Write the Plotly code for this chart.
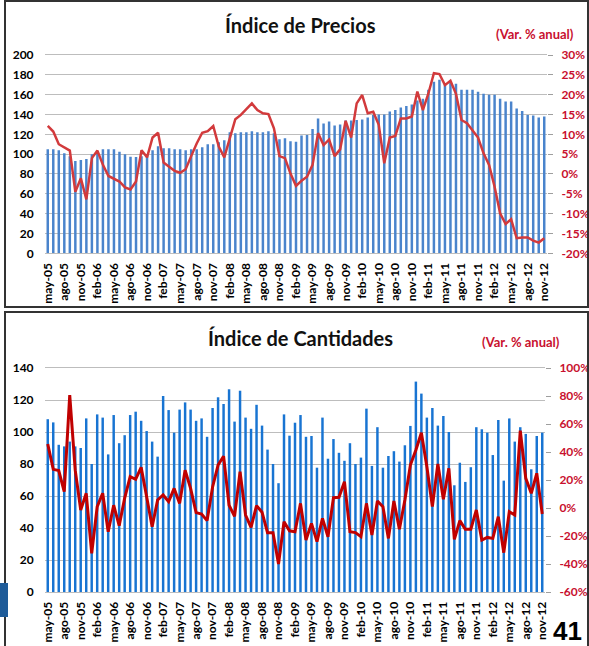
import plotly.graph_objects as go

# ---------------- data ----------------
month_names = ["ene", "feb", "mar", "abr", "may", "jun", "jul", "ago", "sep", "oct", "nov", "dic"]
categories = []
for yr in range(2005, 2013):
    for m in range(12):
        if (yr == 2005 and m < 4) or (yr == 2012 and m > 10):
            continue
        categories.append(f"{month_names[m]}-{str(yr)[2:]}")

tick_labels = categories[::3]

precios_indice = [
    105, 105, 104, 101, 98, 93, 94, 95, 100, 103,
    105, 105, 105, 102.5, 100, 97.5, 97, 98, 100, 104,
    108, 106, 106, 105, 105, 104, 105, 105, 107, 110,
    110, 112, 114, 122, 121, 122, 122, 123, 122, 122,
    123, 121, 115, 116, 113, 112.6, 118.7, 119.3, 125.4, 136,
    131, 133, 129, 130, 134, 134, 134.5, 135, 137, 139.5,
    140, 140, 143, 144.5, 147, 148.6, 150, 154, 156, 165,
    173, 175, 171, 173, 171, 165, 165, 165, 163, 161,
    160, 160, 156, 153, 153, 146, 143.5, 139.5, 139, 137,
    138,
]
precios_var = [
    12.1, 10.7, 7.5, 6.7, 5.9, -4.5, -1.1, -6.4, 4.0, 5.9,
    2.3, -0.5, -1.1, -1.9, -3.4, -3.9, -1.9, 6.0, 4.2, 9.2,
    10.4, 2.9, 1.8, 0.8, 0.3, 1.2, 4.5, 7.7, 10.4, 10.8,
    12.1, 6.9, 4.2, 9.0, 13.8, 14.9, 16.3, 17.8, 16.1, 15.3,
    15.1, 11.5, 4.5, 4.0, 0.1, -3.0, -1.7, -0.7, 2.3, 10.3,
    7.3, 8.7, 4.5, 6.2, 13.4, 9.2, 17.8, 19.9, 15.3, 15.7,
    12.4, 2.7, 9.2, 9.6, 14.0, 14.0, 14.5, 20.8, 16.1, 20.3,
    25.4, 25.2, 22.4, 23.5, 20.2, 13.6, 12.8, 11.1, 9.2, 5.2,
    2.3, -3.2, -9.9, -12.6, -11.4, -16.2, -16.0, -16.0, -16.8, -17.3,
    -16.2,
]

cantidades_indice = [
    108, 106, 92, 91, 94, 91, 90, 108.5, 80, 111,
    109, 86, 110.6, 93, 98, 110.6, 112.7, 107, 100.6, 94,
    84.6, 122.5, 113.7, 99.6, 114, 118.5, 114, 107, 108.5, 97,
    115, 121.7, 117.5, 126.7, 106.5, 125.8, 109, 102, 117, 104,
    89, 80, 68, 111, 97.7, 105.8, 110.6, 97, 97.5, 77.7,
    109, 83.3, 95.6, 87, 82, 93, 80, 84, 114.6, 78.8,
    103, 77.7, 85, 88, 81.5, 91.7, 103.8, 131.5, 124, 109,
    115, 104, 110, 100, 66.7, 80.8, 68.8, 78, 103, 101.7,
    99.6, 85.6, 107.5, 69.6, 108.5, 94, 103, 98.8, 76.7, 97.5,
    99.6,
]
cantidades_var = [
    45.7, 27.6, 26.7, 11.7, 80.7, 27.0, -1.4, 10.5, -32.4, 1.0,
    10.5, -17.0, 2.0, -12.6, 7.0, 22.4, 20.5, 29.0, 8.0, -13.3,
    5.7, 9.3, 4.5, 14.0, 3.3, 27.0, 14.0, -3.3, -4.3, -9.0,
    15.0, 30.7, 37.0, 2.0, -6.0, 26.0, -5.0, -13.8, 1.7, -3.0,
    -17.6, -17.6, -40.0, -9.8, -16.3, -17.0, 3.3, -22.9, -11.0, -24.0,
    -7.4, -20.5, 7.4, 7.6, 18.8, -17.0, -17.6, -20.5, 3.3, -19.3,
    5.0, 1.0, -21.7, 5.0, -15.2, 5.7, 30.7, 41.4, 53.8, 29.5,
    1.0, 31.4, 6.2, 28.3, -22.4, -9.0, -15.2, -15.2, -1.4, -22.9,
    -21.0, -21.7, -6.2, -31.9, -2.6, -5.0, 55.2, 21.2, 10.5, 24.8,
    -4.3,
]

left_ticks_top = [0, 20, 40, 60, 80, 100, 120, 140, 160, 180, 200]
right_ticks_top = [-20, -15, -10, -5, 0, 5, 10, 15, 20, 25, 30]
right_text_top = ["-20%", "-15%", "-10%", "-5%", "0%", "5%", "10%", "15%", "20%", "25%", "30%"]
left_ticks_bot = [0, 20, 40, 60, 80, 100, 120, 140]
right_ticks_bot = [-60, -40, -20, 0, 20, 40, 60, 80, 100]
right_text_bot = ["-60%", "-40%", "-20%", "0%", "20%", "40%", "60%", "80%", "100%"]

# ---------------- layout helpers ----------------
W, H = 589, 646
def px(x):
    return x / W
def py(y):
    return 1 - y / H

FONT = "Lato"
RED = "#C8102E"
GRID = "#BDBDBD"

fig = go.Figure()

fig.add_trace(go.Bar(x=categories, y=precios_indice, marker=dict(color="#4A84CC", line=dict(width=0)),
                     xaxis="x", yaxis="y", showlegend=False))
fig.add_trace(go.Scatter(x=categories, y=precios_var, mode="lines", line=dict(color="#D23A3C", width=2.5),
                         xaxis="x", yaxis="y2", showlegend=False))
fig.add_trace(go.Bar(x=categories, y=cantidades_indice, marker=dict(color="#1874D2", line=dict(width=0)),
                     xaxis="x2", yaxis="y3", showlegend=False))
fig.add_trace(go.Scatter(x=categories, y=cantidades_var, mode="lines", line=dict(color="#C00000", width=3),
                         xaxis="x2", yaxis="y4", showlegend=False))

tickfont_black = dict(family=FONT, size=12, color="#000000", weight="bold")
tickfont_red = dict(family=FONT, size=12, color=RED, weight="bold")

xcommon = dict(type="category", tickmode="array", tickvals=tick_labels, ticktext=tick_labels,
               tickangle=-90, tickfont=tickfont_black, showgrid=False, showline=True,
               linecolor=GRID, linewidth=1, mirror=True, ticks="outside", ticklen=4,
               tickcolor="rgba(0,0,0,0)", range=[-0.5, 90.5], automargin=False)

fig.update_layout(
    width=W, height=H,
    margin=dict(l=0, r=0, t=0, b=0, autoexpand=False),
    paper_bgcolor="white", plot_bgcolor="white",
    bargap=0.55,
    xaxis=dict(domain=[px(45), px(547)], anchor="y", **xcommon),
    yaxis=dict(domain=[py(253.3), py(55)], range=[0, 200], tickvals=left_ticks_top,
               showgrid=True, gridcolor=GRID, gridwidth=1, zeroline=False,
               tickfont=tickfont_black, ticks="outside", ticklen=8, tickcolor="rgba(0,0,0,0)",
               showline=False, automargin=False),
    yaxis2=dict(overlaying="y", side="right", anchor="x", range=[-20, 30],
                tickvals=right_ticks_top, ticktext=right_text_top, showgrid=False, zeroline=False,
                tickfont=tickfont_red, ticks="outside", ticklen=5, tickcolor="#9E9E9E",
                ticklabelstandoff=6, showline=False, automargin=False),
    xaxis2=dict(domain=[px(45), px(545)], anchor="y3", **xcommon),
    yaxis3=dict(domain=[py(592), py(368)], range=[0, 140], tickvals=left_ticks_bot,
                showgrid=True, gridcolor=GRID, gridwidth=1, zeroline=False,
                tickfont=tickfont_black, ticks="outside", ticklen=8, tickcolor="rgba(0,0,0,0)",
                showline=False, automargin=False),
    yaxis4=dict(overlaying="y3", side="right", anchor="x2", range=[-60, 100],
                tickvals=right_ticks_bot, ticktext=right_text_bot, showgrid=False, zeroline=False,
                tickfont=tickfont_red, ticks="outside", ticklen=5, tickcolor="#9E9E9E",
                ticklabelstandoff=6, showline=False, automargin=False),
)

annotations = [
    dict(text="Índice de Precios", x=px(300), y=py(25), font=dict(family=FONT, size=20, color="#111111", weight="bold")),
    dict(text="(Var. % anual)", x=px(535), y=py(34), font=dict(family=FONT, size=13, color=RED, weight="bold")),
    dict(text="Índice de Cantidades", x=px(300), y=py(338), font=dict(family=FONT, size=20, color="#111111", weight="bold")),
    dict(text="(Var. % anual)", x=px(521), y=py(342), font=dict(family=FONT, size=13, color=RED, weight="bold")),
    dict(text="41", x=px(567), y=py(631), font=dict(family="Liberation Sans", size=26, color="#000000", weight="bold")),
]
for a in annotations:
    a.update(xref="paper", yref="paper", showarrow=False, xanchor="center", yanchor="middle")
fig.update_layout(annotations=annotations)

shapes = [
    dict(type="rect", x0=px(5), x1=px(588), y0=py(307), y1=py(1), line=dict(color="#333333", width=2)),
    dict(type="rect", x0=px(5), x1=px(588), y0=py(660), y1=py(312), line=dict(color="#333333", width=2)),
    dict(type="rect", x0=px(0), x1=px(8), y0=py(617), y1=py(583), line=dict(width=0), fillcolor="#1F5C99"),
]
for s in shapes:
    s.update(xref="paper", yref="paper", layer="above")
fig.update_layout(shapes=shapes)

fig.write_html(
    "out.html",
    config={"displayModeBar": False},
    post_script="document.body.style.margin='0';document.body.style.overflow='hidden';",
)
